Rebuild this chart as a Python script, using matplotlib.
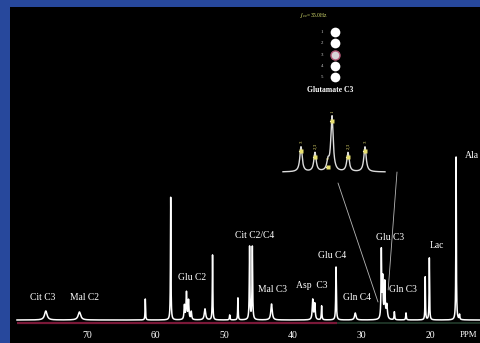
import numpy as np
import matplotlib.pyplot as plt
from matplotlib.patches import ConnectionPatch, Rectangle

plt.rcParams['font.family'] = ['Liberation Serif', 'DejaVu Serif']

# 13C spectrum peaks: chemical shift (ppm), height, half width (ppm)
peak_ppm = [76.0, 71.1, 61.5, 57.8, 55.8, 55.5, 55.2, 54.8, 52.8, 51.7, 49.2, 48.0,
            46.3, 45.9, 43.1, 37.1, 36.8, 35.8, 33.7, 30.9, 27.1, 26.9, 26.6, 26.3,
            25.2, 23.5, 20.7, 20.1, 16.2, 15.7]
peak_height = [9, 8, 21, 123, 14, 27, 19, 8, 11, 65, 5, 22,
               73, 73, 16, 20, 16, 14, 53, 7, 67, 40, 36, 14,
               8, 7, 43, 62, 163, 5]
peak_width = [0.22, 0.22, 0.04, 0.04, 0.07, 0.07, 0.07, 0.07, 0.12, 0.04, 0.05, 0.04,
              0.05, 0.05, 0.12, 0.08, 0.08, 0.05, 0.05, 0.12, 0.05, 0.07, 0.07, 0.1,
              0.05, 0.05, 0.04, 0.04, 0.04, 0.05]

# peak labels: text, ppm, height of the label
label_text = ['Cit C3', 'Mal C2', 'Glu C2', 'Cit C2/C4', 'Mal C3', 'Asp  C3',
              'Glu C4', 'Gln C4', 'Glu C3', 'Gln C3', 'Lac', 'Ala']
label_ppm = [76.4, 70.3, 54.7, 45.5, 42.9, 37.2, 34.3, 30.6, 25.8, 23.9, 19.0, 13.9]
label_y = [22, 22, 43, 85, 31, 34, 64, 22, 83, 30, 75, 165]

tick_ppm = [70, 60, 50, 40, 30, 20]

# expanded glutamate C3 multiplet (offset from the centre line, height)
inset_offset = [-31, -17, -4, 0, 16, 33]
inset_height = [25, 19, 9, 55, 19, 25]
inset_marks = ['3', '2,3', '5', '1', '2,3', '3']
isotopomers = ['1', '2', '3', '4', '5']

W, H = 481, 343
fig = plt.figure(figsize=(W / 100, H / 100), dpi=100)
fig.patch.set_facecolor('#27489c')


def px_box(x0, y0, x1, y1):
    return [x0 / W, 1 - y1 / H, (x1 - x0) / W, (y1 - y0) / H]


# black panel behind everything
x0, y0, w0, h0 = px_box(10, 7, 481, 343)
fig.patches.append(Rectangle((x0, y0), w0, h0, transform=fig.transFigure,
                             facecolor='black', edgecolor='none', zorder=-10))

# main spectrum, vertical units in pixels above the baseline
ax = fig.add_axes(px_box(10, 7, 481, 343))
ax.set_xlim(81.22, 12.57)
ax.set_ylim(-23, 313)
ax.axis('off')

ppm = np.linspace(80.2, 12.7, 14000)
spec = np.zeros_like(ppm)
for p, h, w in zip(peak_ppm, peak_height, peak_width):
    spec += h * w ** 2 / ((ppm - p) ** 2 + w ** 2)
ax.plot([80.2, 33.6], [-3, -3], color='#7a1838', lw=1.6, solid_capstyle='butt')
ax.plot([33.6, 12.7], [-3, -3], color='#1d3326', lw=1.4, solid_capstyle='butt')
ax.plot(ppm, spec, color='white', lw=1.1)

for t, x, y in zip(label_text, label_ppm, label_y):
    ax.text(x, y, t, color='white', fontsize=6.9, ha='center', va='center')
for t in tick_ppm:
    ax.text(t, -15, str(t), color='white', fontsize=7, ha='center', va='center')
ax.text(14.4, -15, 'PPM', color='white', fontsize=6.3, ha='center', va='center')

# inset: expanded multiplet
ins = fig.add_axes(px_box(280, 105, 400, 186))
ins.set_xlim(-52, 68)
ins.set_ylim(-14, 67)
ins.axis('off')
off = np.linspace(-49, 53, 1500)
curve = np.zeros_like(off)
for o, h in zip(inset_offset, inset_height):
    curve += h * 1.4 ** 2 / ((off - o) ** 2 + 1.4 ** 2)
ins.plot(off, curve, color='#dcdcdc', lw=1.0)
for o, h, m in zip(inset_offset, inset_height, inset_marks):
    ins.plot([o - 2.5, o], [h - 4, h - 4], color='white', lw=0.8)
    ins.plot(o, h - 4, 's', ms=2.5, color='#e8e070', mec='none')
    ins.text(o + 1, h + 4, m, color='#e8e070', fontsize=3.5, rotation=90,
             ha='center', va='bottom')

# lines from the inset down to the Glu C3 lines
for a, b in [((6, -11), (27.58, 18)), ((65, 0), (26.1, 30))]:
    con = ConnectionPatch(xyA=a, coordsA=ins.transData, xyB=b, coordsB=ax.transData,
                          color='#b8b8b8', lw=0.6)
    fig.add_artist(con)

# isotopomer key above the inset
key = fig.add_axes(px_box(290, 5, 370, 100))
key.set_xlim(290, 370)
key.set_ylim(100, 5)
key.axis('off')
key.text(314, 15, r'$J_{cc}$=35.0Hz', color='#d8e070', fontsize=4, ha='center', va='center')
for i, n in enumerate(isotopomers):
    y = 32 + i * 11.3
    key.text(322, y, n, color='#cccccc', fontsize=3.5, ha='center', va='center')
    if n == '3':
        key.plot(335, y, 'o', ms=6.5, color='#d8d2d6', mec='#b55a78', mew=1.0)
    else:
        key.plot(335, y, 'o', ms=7, color='white', mec='none')
key.text(330, 90, 'Glutamate C3', color='white', fontsize=5.5, fontweight='bold',
         ha='center', va='center')

fig.savefig('out.png', dpi=100, facecolor=fig.get_facecolor())
